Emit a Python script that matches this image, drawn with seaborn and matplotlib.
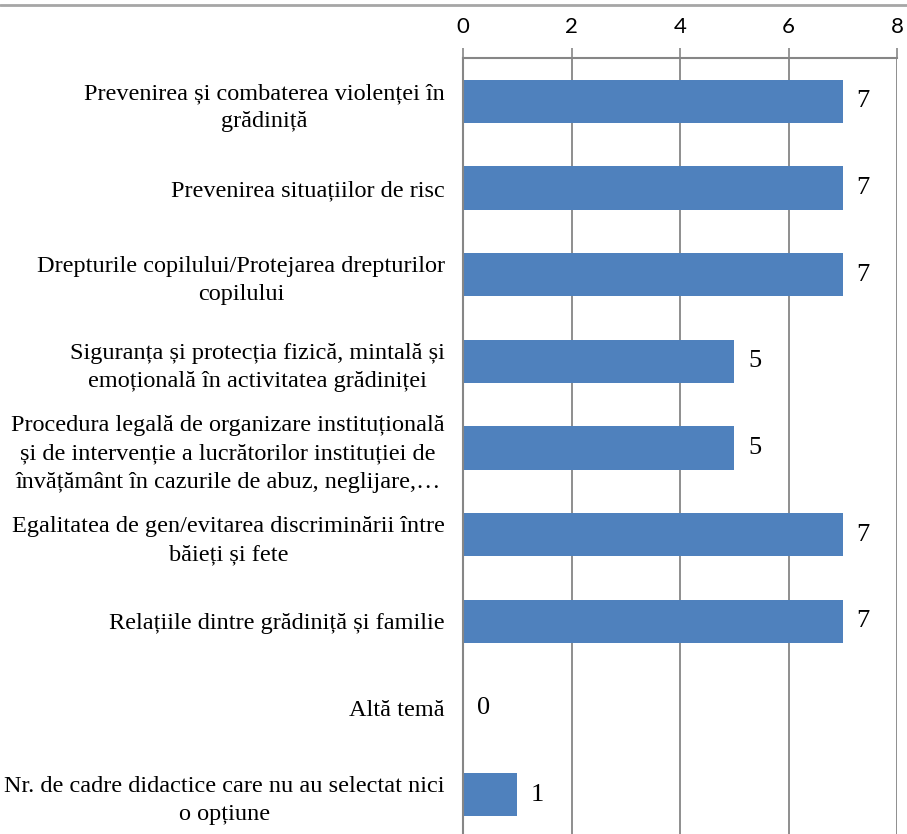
import matplotlib
matplotlib.use("Agg")
import matplotlib.pyplot as plt
import pandas as pd
import seaborn as sns
from matplotlib.lines import Line2D
from matplotlib.ticker import FixedLocator

categories = [
    "Prevenirea și combaterea violenței în\ngrădiniță",
    "Prevenirea situațiilor de risc",
    "Drepturile copilului/Protejarea drepturilor\ncopilului",
    "Siguranța și protecția fizică, mintală și\nemoțională în activitatea grădiniței",
    "Procedura legală de organizare instituțională\nși de intervenție a lucrătorilor instituției de\nînvățământ în cazurile de abuz, neglijare,…",
    "Egalitatea de gen/evitarea discriminării între\nbăieți și fete",
    "Relațiile dintre grădiniță și familie",
    "Altă temă",
    "Nr. de cadre didactice care nu au selectat nici\no opțiune",
]
values = [7, 7, 7, 5, 5, 7, 7, 0, 1]
x_ticks = [0, 2, 4, 6, 8]

df = pd.DataFrame({"tema": categories, "n": values})

sns.set_style("white")
grey = "#868686"

fig = plt.figure(figsize=(9.07, 8.34), dpi=100)
ax = fig.add_axes([463 / 907, -4 / 834, 434 / 907, 780 / 834])

sns.barplot(data=df, x="n", y="tema", orient="h", color="#4F81BD",
            width=0.5, saturation=1, linewidth=0, ax=ax, zorder=3)

ax.set_xlim(0, 8)
ax.set_ylim(8.5, -0.5)
ax.xaxis.tick_top()
ax.set_xticks(x_ticks)
ax.set_xticklabels([str(t) for t in x_ticks], family="Lato", fontsize=16, color="black")
ax.tick_params(axis="x", direction="out", length=7, width=1.2, color=grey, pad=8)
ax.grid(axis="x", color=grey, linewidth=1.3, zorder=0)
ax.set_axisbelow(True)

ax.set_yticks(range(len(categories)))
ax.set_yticklabels(categories, family="Liberation Serif", fontsize=17.5,
                   linespacing=1.45, color="black", multialignment="center")
ax.tick_params(axis="y", which="major", length=0, pad=13)
ax.yaxis.set_minor_locator(FixedLocator([i + 0.5 for i in range(len(categories) - 1)]))
ax.tick_params(axis="y", which="minor", direction="out", length=7, width=1.2, color=grey)

for side in ["right", "bottom"]:
    ax.spines[side].set_visible(False)
for side in ["left", "top"]:
    ax.spines[side].set_color(grey)
    ax.spines[side].set_linewidth(1.5)
    ax.spines[side].set_zorder(5)

ax.set_xlabel("")
ax.set_ylabel("")

for cont in ax.containers:
    ax.bar_label(cont, labels=[str(v) for v in values], padding=10,
                 family="Liberation Serif", fontsize=19, color="black")

fig.add_artist(Line2D([0, 1], [1 - 5 / 834, 1 - 5 / 834], color="#a6a6a6",
                      linewidth=2, transform=fig.transFigure))

plt.savefig("out.png", dpi=100)
plt.close()
